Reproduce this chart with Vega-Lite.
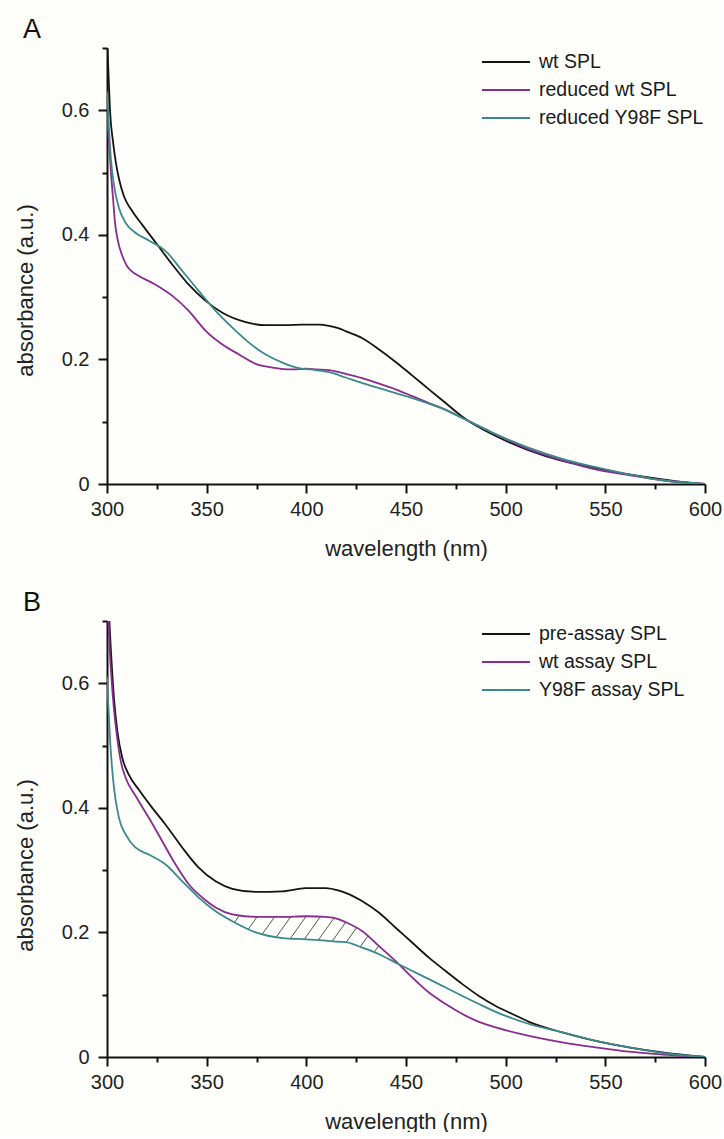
{
  "$schema": "https://vega.github.io/schema/vega-lite/v6.json",
  "background": "#fefefb",
  "padding": {"left": 14, "top": 16, "right": 0, "bottom": 0},
  "spacing": 137,
  "bounds": "flush",
  "config": {
    "font": "Liberation Sans",
    "view": {"stroke": null},
    "axis": {"grid": false, "domainColor": "#111111", "domainWidth": 2, "tickColor": "#111111", "tickWidth": 2, "labelColor": "#222222", "labelFontSize": 20, "titleFontSize": 22, "titleFontWeight": "normal", "titleColor": "#222222", "labelOverlap": false, "labelFlush": false},
    "legend": {"orient": "none", "title": null, "symbolType": "M-2,0H2", "symbolSize": 576, "symbolStrokeWidth": 2, "labelFontSize": 19.5, "labelColor": "#1a1a1a", "labelOffset": 20, "labelLimit": 0, "rowPadding": 5, "padding": 0},
    "title": {"anchor": "start", "frame": "group", "dx": -84, "offset": -6, "fontSize": 27, "fontWeight": "normal", "color": "#111111"}
  },
  "resolve": {"scale": {"color": "independent"}},
  "datasets": {
    "A": [
      {"s": "wt SPL", "nm": 300, "abs": 0.72}, {"s": "wt SPL", "nm": 300.5, "abs": 0.68}, {"s": "wt SPL", "nm": 301.5, "abs": 0.6}, {"s": "wt SPL", "nm": 303, "abs": 0.55}, {"s": "wt SPL", "nm": 304.5, "abs": 0.515}, {"s": "wt SPL", "nm": 306, "abs": 0.49}, {"s": "wt SPL", "nm": 308.5, "abs": 0.462}, {"s": "wt SPL", "nm": 312.7, "abs": 0.438}, {"s": "wt SPL", "nm": 317.7, "abs": 0.416}, {"s": "wt SPL", "nm": 325.3, "abs": 0.384}, {"s": "wt SPL", "nm": 332.8, "abs": 0.352}, {"s": "wt SPL", "nm": 341, "abs": 0.32}, {"s": "wt SPL", "nm": 349.5, "abs": 0.294}, {"s": "wt SPL", "nm": 357.9, "abs": 0.275}, {"s": "wt SPL", "nm": 369.6, "abs": 0.26}, {"s": "wt SPL", "nm": 379.6, "abs": 0.255}, {"s": "wt SPL", "nm": 389.6, "abs": 0.255}, {"s": "wt SPL", "nm": 398, "abs": 0.256}, {"s": "wt SPL", "nm": 406.4, "abs": 0.256}, {"s": "wt SPL", "nm": 411.4, "abs": 0.254}, {"s": "wt SPL", "nm": 416.4, "abs": 0.25}, {"s": "wt SPL", "nm": 420, "abs": 0.245}, {"s": "wt SPL", "nm": 428.1, "abs": 0.234}, {"s": "wt SPL", "nm": 436.5, "abs": 0.216}, {"s": "wt SPL", "nm": 444.8, "abs": 0.196}, {"s": "wt SPL", "nm": 453.2, "abs": 0.174}, {"s": "wt SPL", "nm": 461.5, "abs": 0.152}, {"s": "wt SPL", "nm": 469.9, "abs": 0.13}, {"s": "wt SPL", "nm": 478.3, "abs": 0.108}, {"s": "wt SPL", "nm": 486.6, "abs": 0.091}, {"s": "wt SPL", "nm": 495, "abs": 0.077}, {"s": "wt SPL", "nm": 511.7, "abs": 0.054}, {"s": "wt SPL", "nm": 528.4, "abs": 0.037}, {"s": "wt SPL", "nm": 545.1, "abs": 0.026}, {"s": "wt SPL", "nm": 561.8, "abs": 0.0155}, {"s": "wt SPL", "nm": 578.6, "abs": 0.0075}, {"s": "wt SPL", "nm": 595.3, "abs": 0.001}, {"s": "wt SPL", "nm": 600, "abs": 0},
      {"s": "reduced wt SPL", "nm": 300, "abs": 0.59}, {"s": "reduced wt SPL", "nm": 301, "abs": 0.55}, {"s": "reduced wt SPL", "nm": 302, "abs": 0.5}, {"s": "reduced wt SPL", "nm": 303, "abs": 0.46}, {"s": "reduced wt SPL", "nm": 304, "abs": 0.42}, {"s": "reduced wt SPL", "nm": 305.5, "abs": 0.39}, {"s": "reduced wt SPL", "nm": 307.5, "abs": 0.368}, {"s": "reduced wt SPL", "nm": 310, "abs": 0.35}, {"s": "reduced wt SPL", "nm": 313, "abs": 0.34}, {"s": "reduced wt SPL", "nm": 316, "abs": 0.334}, {"s": "reduced wt SPL", "nm": 324.4, "abs": 0.32}, {"s": "reduced wt SPL", "nm": 332.8, "abs": 0.302}, {"s": "reduced wt SPL", "nm": 341, "abs": 0.278}, {"s": "reduced wt SPL", "nm": 349.5, "abs": 0.246}, {"s": "reduced wt SPL", "nm": 357.9, "abs": 0.224}, {"s": "reduced wt SPL", "nm": 366.2, "abs": 0.208}, {"s": "reduced wt SPL", "nm": 374.6, "abs": 0.193}, {"s": "reduced wt SPL", "nm": 383, "abs": 0.187}, {"s": "reduced wt SPL", "nm": 393, "abs": 0.184}, {"s": "reduced wt SPL", "nm": 399.7, "abs": 0.185}, {"s": "reduced wt SPL", "nm": 405, "abs": 0.184}, {"s": "reduced wt SPL", "nm": 411.4, "abs": 0.1827}, {"s": "reduced wt SPL", "nm": 419.7, "abs": 0.177}, {"s": "reduced wt SPL", "nm": 428.1, "abs": 0.17}, {"s": "reduced wt SPL", "nm": 436.5, "abs": 0.161}, {"s": "reduced wt SPL", "nm": 444.8, "abs": 0.152}, {"s": "reduced wt SPL", "nm": 453.2, "abs": 0.141}, {"s": "reduced wt SPL", "nm": 461.5, "abs": 0.13}, {"s": "reduced wt SPL", "nm": 469.9, "abs": 0.119}, {"s": "reduced wt SPL", "nm": 478.3, "abs": 0.106}, {"s": "reduced wt SPL", "nm": 486.6, "abs": 0.093}, {"s": "reduced wt SPL", "nm": 495, "abs": 0.0796}, {"s": "reduced wt SPL", "nm": 511.7, "abs": 0.0556}, {"s": "reduced wt SPL", "nm": 528.4, "abs": 0.038}, {"s": "reduced wt SPL", "nm": 545.1, "abs": 0.0235}, {"s": "reduced wt SPL", "nm": 561.8, "abs": 0.0144}, {"s": "reduced wt SPL", "nm": 578.6, "abs": 0.006}, {"s": "reduced wt SPL", "nm": 600, "abs": 0},
      {"s": "reduced Y98F SPL", "nm": 300, "abs": 0.63}, {"s": "reduced Y98F SPL", "nm": 301, "abs": 0.57}, {"s": "reduced Y98F SPL", "nm": 302, "abs": 0.52}, {"s": "reduced Y98F SPL", "nm": 303.5, "abs": 0.48}, {"s": "reduced Y98F SPL", "nm": 306, "abs": 0.443}, {"s": "reduced Y98F SPL", "nm": 309.4, "abs": 0.419}, {"s": "reduced Y98F SPL", "nm": 314.4, "abs": 0.403}, {"s": "reduced Y98F SPL", "nm": 321, "abs": 0.391}, {"s": "reduced Y98F SPL", "nm": 329.4, "abs": 0.374}, {"s": "reduced Y98F SPL", "nm": 337.8, "abs": 0.342}, {"s": "reduced Y98F SPL", "nm": 346, "abs": 0.31}, {"s": "reduced Y98F SPL", "nm": 354.5, "abs": 0.278}, {"s": "reduced Y98F SPL", "nm": 362.9, "abs": 0.251}, {"s": "reduced Y98F SPL", "nm": 371.2, "abs": 0.227}, {"s": "reduced Y98F SPL", "nm": 379.6, "abs": 0.208}, {"s": "reduced Y98F SPL", "nm": 388, "abs": 0.195}, {"s": "reduced Y98F SPL", "nm": 396.3, "abs": 0.186}, {"s": "reduced Y98F SPL", "nm": 404.7, "abs": 0.183}, {"s": "reduced Y98F SPL", "nm": 411.4, "abs": 0.1795}, {"s": "reduced Y98F SPL", "nm": 419.7, "abs": 0.171}, {"s": "reduced Y98F SPL", "nm": 428.1, "abs": 0.162}, {"s": "reduced Y98F SPL", "nm": 436.5, "abs": 0.154}, {"s": "reduced Y98F SPL", "nm": 444.8, "abs": 0.146}, {"s": "reduced Y98F SPL", "nm": 453.2, "abs": 0.138}, {"s": "reduced Y98F SPL", "nm": 461.5, "abs": 0.129}, {"s": "reduced Y98F SPL", "nm": 469.9, "abs": 0.119}, {"s": "reduced Y98F SPL", "nm": 478.3, "abs": 0.106}, {"s": "reduced Y98F SPL", "nm": 486.6, "abs": 0.093}, {"s": "reduced Y98F SPL", "nm": 495, "abs": 0.08}, {"s": "reduced Y98F SPL", "nm": 511.7, "abs": 0.058}, {"s": "reduced Y98F SPL", "nm": 528.4, "abs": 0.0405}, {"s": "reduced Y98F SPL", "nm": 545.1, "abs": 0.027}, {"s": "reduced Y98F SPL", "nm": 561.8, "abs": 0.0155}, {"s": "reduced Y98F SPL", "nm": 578.6, "abs": 0.006}, {"s": "reduced Y98F SPL", "nm": 600, "abs": 0}
    ],
    "B": [
      {"s": "pre-assay SPL", "nm": 300, "abs": 0.78}, {"s": "pre-assay SPL", "nm": 301.5, "abs": 0.68}, {"s": "pre-assay SPL", "nm": 303.5, "abs": 0.576}, {"s": "pre-assay SPL", "nm": 305.2, "abs": 0.523}, {"s": "pre-assay SPL", "nm": 307.7, "abs": 0.48}, {"s": "pre-assay SPL", "nm": 311, "abs": 0.453}, {"s": "pre-assay SPL", "nm": 316, "abs": 0.429}, {"s": "pre-assay SPL", "nm": 322.7, "abs": 0.4}, {"s": "pre-assay SPL", "nm": 329.4, "abs": 0.373}, {"s": "pre-assay SPL", "nm": 337.8, "abs": 0.336}, {"s": "pre-assay SPL", "nm": 346, "abs": 0.304}, {"s": "pre-assay SPL", "nm": 354.5, "abs": 0.282}, {"s": "pre-assay SPL", "nm": 362.9, "abs": 0.27}, {"s": "pre-assay SPL", "nm": 374.6, "abs": 0.265}, {"s": "pre-assay SPL", "nm": 388, "abs": 0.266}, {"s": "pre-assay SPL", "nm": 399.7, "abs": 0.271}, {"s": "pre-assay SPL", "nm": 409.7, "abs": 0.271}, {"s": "pre-assay SPL", "nm": 416.4, "abs": 0.267}, {"s": "pre-assay SPL", "nm": 419.7, "abs": 0.2635}, {"s": "pre-assay SPL", "nm": 428.1, "abs": 0.25}, {"s": "pre-assay SPL", "nm": 436.5, "abs": 0.2315}, {"s": "pre-assay SPL", "nm": 444.8, "abs": 0.2075}, {"s": "pre-assay SPL", "nm": 453.2, "abs": 0.1835}, {"s": "pre-assay SPL", "nm": 461.5, "abs": 0.1595}, {"s": "pre-assay SPL", "nm": 469.9, "abs": 0.138}, {"s": "pre-assay SPL", "nm": 478.3, "abs": 0.117}, {"s": "pre-assay SPL", "nm": 486.6, "abs": 0.098}, {"s": "pre-assay SPL", "nm": 495, "abs": 0.082}, {"s": "pre-assay SPL", "nm": 503.4, "abs": 0.069}, {"s": "pre-assay SPL", "nm": 511.7, "abs": 0.0565}, {"s": "pre-assay SPL", "nm": 528.4, "abs": 0.0395}, {"s": "pre-assay SPL", "nm": 545.1, "abs": 0.026}, {"s": "pre-assay SPL", "nm": 561.8, "abs": 0.0155}, {"s": "pre-assay SPL", "nm": 578.6, "abs": 0.0075}, {"s": "pre-assay SPL", "nm": 597, "abs": 0.001}, {"s": "pre-assay SPL", "nm": 600, "abs": 0},
      {"s": "wt assay SPL", "nm": 300, "abs": 0.78}, {"s": "wt assay SPL", "nm": 301, "abs": 0.68}, {"s": "wt assay SPL", "nm": 303, "abs": 0.576}, {"s": "wt assay SPL", "nm": 304.7, "abs": 0.523}, {"s": "wt assay SPL", "nm": 306.9, "abs": 0.475}, {"s": "wt assay SPL", "nm": 309.4, "abs": 0.448}, {"s": "wt assay SPL", "nm": 314.4, "abs": 0.419}, {"s": "wt assay SPL", "nm": 321, "abs": 0.384}, {"s": "wt assay SPL", "nm": 327.8, "abs": 0.346}, {"s": "wt assay SPL", "nm": 334.4, "abs": 0.309}, {"s": "wt assay SPL", "nm": 341.1, "abs": 0.277}, {"s": "wt assay SPL", "nm": 347.8, "abs": 0.256}, {"s": "wt assay SPL", "nm": 354.5, "abs": 0.24}, {"s": "wt assay SPL", "nm": 362.9, "abs": 0.229}, {"s": "wt assay SPL", "nm": 374.6, "abs": 0.225}, {"s": "wt assay SPL", "nm": 388, "abs": 0.225}, {"s": "wt assay SPL", "nm": 399.7, "abs": 0.226}, {"s": "wt assay SPL", "nm": 409.7, "abs": 0.225}, {"s": "wt assay SPL", "nm": 416.4, "abs": 0.221}, {"s": "wt assay SPL", "nm": 419.7, "abs": 0.2165}, {"s": "wt assay SPL", "nm": 428.1, "abs": 0.202}, {"s": "wt assay SPL", "nm": 436.5, "abs": 0.178}, {"s": "wt assay SPL", "nm": 444.8, "abs": 0.154}, {"s": "wt assay SPL", "nm": 453.2, "abs": 0.1275}, {"s": "wt assay SPL", "nm": 461.5, "abs": 0.1035}, {"s": "wt assay SPL", "nm": 469.9, "abs": 0.085}, {"s": "wt assay SPL", "nm": 478.3, "abs": 0.069}, {"s": "wt assay SPL", "nm": 486.6, "abs": 0.0565}, {"s": "wt assay SPL", "nm": 495, "abs": 0.0475}, {"s": "wt assay SPL", "nm": 511.7, "abs": 0.034}, {"s": "wt assay SPL", "nm": 528.4, "abs": 0.0235}, {"s": "wt assay SPL", "nm": 545.1, "abs": 0.0155}, {"s": "wt assay SPL", "nm": 561.8, "abs": 0.0085}, {"s": "wt assay SPL", "nm": 578.6, "abs": 0.004}, {"s": "wt assay SPL", "nm": 600, "abs": 0},
      {"s": "Y98F assay SPL", "nm": 300, "abs": 0.61}, {"s": "Y98F assay SPL", "nm": 301.8, "abs": 0.496}, {"s": "Y98F assay SPL", "nm": 303.5, "abs": 0.432}, {"s": "Y98F assay SPL", "nm": 306, "abs": 0.384}, {"s": "Y98F assay SPL", "nm": 309.4, "abs": 0.357}, {"s": "Y98F assay SPL", "nm": 314.4, "abs": 0.336}, {"s": "Y98F assay SPL", "nm": 321, "abs": 0.325}, {"s": "Y98F assay SPL", "nm": 329.4, "abs": 0.309}, {"s": "Y98F assay SPL", "nm": 337.8, "abs": 0.282}, {"s": "Y98F assay SPL", "nm": 346, "abs": 0.256}, {"s": "Y98F assay SPL", "nm": 354.5, "abs": 0.234}, {"s": "Y98F assay SPL", "nm": 362.9, "abs": 0.218}, {"s": "Y98F assay SPL", "nm": 374.6, "abs": 0.2}, {"s": "Y98F assay SPL", "nm": 388, "abs": 0.191}, {"s": "Y98F assay SPL", "nm": 399.7, "abs": 0.189}, {"s": "Y98F assay SPL", "nm": 409.7, "abs": 0.187}, {"s": "Y98F assay SPL", "nm": 416.4, "abs": 0.185}, {"s": "Y98F assay SPL", "nm": 419.7, "abs": 0.1845}, {"s": "Y98F assay SPL", "nm": 428.1, "abs": 0.1755}, {"s": "Y98F assay SPL", "nm": 436.5, "abs": 0.165}, {"s": "Y98F assay SPL", "nm": 444.8, "abs": 0.1515}, {"s": "Y98F assay SPL", "nm": 453.2, "abs": 0.138}, {"s": "Y98F assay SPL", "nm": 461.5, "abs": 0.125}, {"s": "Y98F assay SPL", "nm": 469.9, "abs": 0.1115}, {"s": "Y98F assay SPL", "nm": 478.3, "abs": 0.098}, {"s": "Y98F assay SPL", "nm": 486.6, "abs": 0.085}, {"s": "Y98F assay SPL", "nm": 495, "abs": 0.0725}, {"s": "Y98F assay SPL", "nm": 511.7, "abs": 0.053}, {"s": "Y98F assay SPL", "nm": 528.4, "abs": 0.0395}, {"s": "Y98F assay SPL", "nm": 545.1, "abs": 0.026}, {"s": "Y98F assay SPL", "nm": 561.8, "abs": 0.0155}, {"s": "Y98F assay SPL", "nm": 578.6, "abs": 0.0064}, {"s": "Y98F assay SPL", "nm": 600, "abs": 0}
    ],
    "hatch": [
      {"nm": 364, "abs": 0.2163, "nm2": 366.5, "abs2": 0.2277},
      {"nm": 371, "abs": 0.2055, "nm2": 375.3, "abs2": 0.225},
      {"nm": 378, "abs": 0.1977, "nm2": 384.1, "abs2": 0.225},
      {"nm": 385, "abs": 0.193, "nm2": 392.2, "abs2": 0.2253},
      {"nm": 392, "abs": 0.1903, "nm2": 399.9, "abs2": 0.2259},
      {"nm": 399, "abs": 0.1891, "nm2": 407.1, "abs2": 0.2256},
      {"nm": 406, "abs": 0.1877, "nm2": 413.8, "abs2": 0.2227},
      {"nm": 413, "abs": 0.186, "nm2": 419.8, "abs2": 0.2165},
      {"nm": 420, "abs": 0.1842, "nm2": 425.1, "abs2": 0.2072},
      {"nm": 427, "abs": 0.1767, "nm2": 430.8, "abs2": 0.194},
      {"nm": 434, "abs": 0.168, "nm2": 436.3, "abs2": 0.1784}
    ]
  },
  "vconcat": [
    {
      "width": 598,
      "height": 436,
      "title": {"text": "A"},
      "layer": [
        {
          "data": {"name": "A"},
          "mark": {"type": "line", "clip": true, "strokeWidth": 1.8, "interpolate": "monotone"},
          "encoding": {
            "x": {"field": "nm", "type": "quantitative", "scale": {"domain": [300, 600], "nice": false},
              "axis": {"title": "wavelength (nm)", "values": [300, 325, 350, 375, 400, 425, 450, 475, 500, 525, 550, 575, 600], "labelExpr": "datum.value % 50 === 0 ? datum.label : ''", "tickSize": {"condition": {"test": "datum.value % 50 === 0", "value": 9}, "value": 5}, "labelPadding": 6, "titlePadding": 19}},
            "y": {"field": "abs", "type": "quantitative", "scale": {"domain": [0, 0.7], "nice": false},
              "axis": {"title": "absorbance (a.u.)", "values": [0, 0.1, 0.2, 0.3, 0.4, 0.5, 0.6, 0.7], "labelExpr": "round(datum.value * 10) % 2 === 0 ? (datum.value === 0 ? '0' : format(datum.value, '.1f')) : ''", "tickSize": {"condition": {"test": "round(datum.value * 10) % 2 === 0", "value": 9}, "value": 5}, "labelPadding": 9, "titleX": -82, "titleY": 242, "titleAngle": 270, "titleBaseline": "middle", "titleAlign": "center"}},
            "color": {"field": "s", "type": "nominal", "scale": {"domain": ["wt SPL", "reduced wt SPL", "reduced Y98F SPL"], "range": ["#141414", "#8a2b8f", "#3b8a8a"]},
              "legend": {"legendX": 386, "legendY": 1}}
          }
        }
      ]
    },
    {
      "width": 598,
      "height": 436,
      "title": {"text": "B"},
      "layer": [
        {
          "data": {"name": "hatch"},
          "mark": {"type": "rule", "clip": true, "color": "#555555", "strokeWidth": 1},
          "encoding": {
            "x": {"field": "nm", "type": "quantitative", "scale": {"domain": [300, 600], "nice": false},
              "axis": {"title": "wavelength (nm)", "values": [300, 325, 350, 375, 400, 425, 450, 475, 500, 525, 550, 575, 600], "labelExpr": "datum.value % 50 === 0 ? datum.label : ''", "tickSize": {"condition": {"test": "datum.value % 50 === 0", "value": 9}, "value": 5}, "labelPadding": 6, "titlePadding": 19}},
            "y": {"field": "abs", "type": "quantitative", "scale": {"domain": [0, 0.7], "nice": false},
              "axis": {"title": "absorbance (a.u.)", "values": [0, 0.1, 0.2, 0.3, 0.4, 0.5, 0.6, 0.7], "labelExpr": "round(datum.value * 10) % 2 === 0 ? (datum.value === 0 ? '0' : format(datum.value, '.1f')) : ''", "tickSize": {"condition": {"test": "round(datum.value * 10) % 2 === 0", "value": 9}, "value": 5}, "labelPadding": 9, "titleX": -82, "titleY": 244, "titleAngle": 270, "titleBaseline": "middle", "titleAlign": "center"}},
            "x2": {"field": "nm2"},
            "y2": {"field": "abs2"}
          }
        },
        {
          "data": {"name": "B"},
          "mark": {"type": "line", "clip": true, "strokeWidth": 1.8, "interpolate": "monotone"},
          "encoding": {
            "x": {"field": "nm", "type": "quantitative", "scale": {"domain": [300, 600], "nice": false},
              "axis": {"title": "wavelength (nm)", "values": [300, 325, 350, 375, 400, 425, 450, 475, 500, 525, 550, 575, 600], "labelExpr": "datum.value % 50 === 0 ? datum.label : ''", "tickSize": {"condition": {"test": "datum.value % 50 === 0", "value": 9}, "value": 5}, "labelPadding": 6, "titlePadding": 19}},
            "y": {"field": "abs", "type": "quantitative", "scale": {"domain": [0, 0.7], "nice": false},
              "axis": {"title": "absorbance (a.u.)", "values": [0, 0.1, 0.2, 0.3, 0.4, 0.5, 0.6, 0.7], "labelExpr": "round(datum.value * 10) % 2 === 0 ? (datum.value === 0 ? '0' : format(datum.value, '.1f')) : ''", "tickSize": {"condition": {"test": "round(datum.value * 10) % 2 === 0", "value": 9}, "value": 5}, "labelPadding": 9, "titleX": -82, "titleY": 244, "titleAngle": 270, "titleBaseline": "middle", "titleAlign": "center"}},
            "color": {"field": "s", "type": "nominal", "scale": {"domain": ["pre-assay SPL", "wt assay SPL", "Y98F assay SPL"], "range": ["#141414", "#8a2b8f", "#3b8a8a"]},
              "legend": {"legendX": 386, "legendY": 0}}
          }
        }
      ]
    }
  ]
}
